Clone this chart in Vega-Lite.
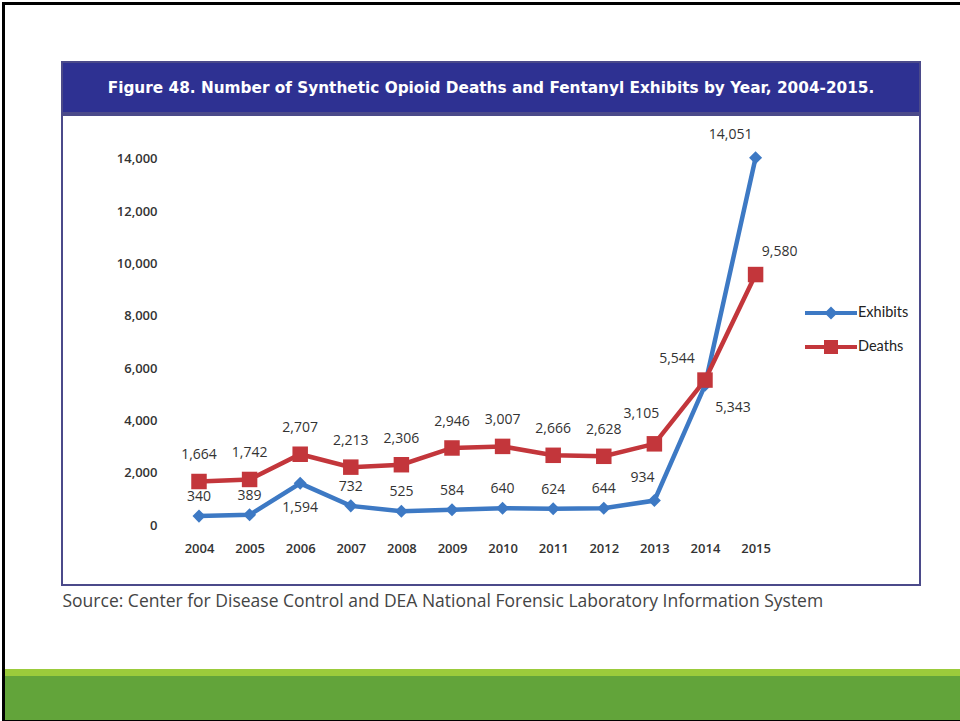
{
  "$schema": "https://vega.github.io/schema/vega-lite/v6.json",
  "background": "white",
  "padding": {"left": 2, "top": 2, "right": 0, "bottom": 0},
  "config": {"view": {"stroke": null}, "concat": {"spacing": 0}},
  "datasets": {
    "opioid": [
      {"year": 2004, "series": "Exhibits", "value": 340},
      {"year": 2005, "series": "Exhibits", "value": 389},
      {"year": 2006, "series": "Exhibits", "value": 1594},
      {"year": 2007, "series": "Exhibits", "value": 732},
      {"year": 2008, "series": "Exhibits", "value": 525},
      {"year": 2009, "series": "Exhibits", "value": 584},
      {"year": 2010, "series": "Exhibits", "value": 640},
      {"year": 2011, "series": "Exhibits", "value": 624},
      {"year": 2012, "series": "Exhibits", "value": 644},
      {"year": 2013, "series": "Exhibits", "value": 934},
      {"year": 2014, "series": "Exhibits", "value": 5343},
      {"year": 2015, "series": "Exhibits", "value": 14051},
      {"year": 2004, "series": "Deaths", "value": 1664},
      {"year": 2005, "series": "Deaths", "value": 1742},
      {"year": 2006, "series": "Deaths", "value": 2707},
      {"year": 2007, "series": "Deaths", "value": 2213},
      {"year": 2008, "series": "Deaths", "value": 2306},
      {"year": 2009, "series": "Deaths", "value": 2946},
      {"year": 2010, "series": "Deaths", "value": 3007},
      {"year": 2011, "series": "Deaths", "value": 2666},
      {"year": 2012, "series": "Deaths", "value": 2628},
      {"year": 2013, "series": "Deaths", "value": 3105},
      {"year": 2014, "series": "Deaths", "value": 5544},
      {"year": 2015, "series": "Deaths", "value": 9580}
    ]
  },
  "spacing": 0,
  "hconcat": [
    {"width": 3, "height": 719, "data": {"values": []}, "mark": "point", "view": {"fill": "black"}},
    {
      "spacing": 0,
      "vconcat": [
        {"width": 955, "height": 3, "data": {"values": []}, "mark": "point", "view": {"fill": "black"}},
        {"width": 955, "height": 56, "data": {"values": []}, "mark": "point"},
        {
          "spacing": 0,
          "hconcat": [
            {"width": 56, "height": 521, "data": {"values": []}, "mark": "point"},
            {
              "spacing": 0,
              "vconcat": [
                {
                  "width": 858,
                  "height": 51,
                  "view": {"fill": "#2E3192", "stroke": "#4B4A8A", "strokeWidth": 2},
                  "data": {"values": [{"t": "Figure 48. Number of Synthetic Opioid Deaths and Fentanyl Exhibits by Year, 2004-2015."}]},
                  "mark": {"type": "text", "color": "white", "font": "DejaVu Sans", "fontSize": 15.3, "fontWeight": "bold"},
                  "encoding": {"text": {"field": "t", "type": "nominal"}}
                },
                {
                  "width": 858,
                  "height": 470,
                  "view": {"fill": "white", "stroke": "#4B4A8A", "strokeWidth": 2},
                  "data": {"name": "opioid"},
                  "encoding": {
                    "x": {
                      "field": "year",
                      "type": "quantitative",
                      "scale": {"domain": [2001.2925, 2018.2495], "nice": false, "zero": false},
                      "axis": {
                        "values": [2004, 2005, 2006, 2007, 2008, 2009, 2010, 2011, 2012, 2013, 2014, 2015],
                        "format": "d",
                        "offset": -37,
                        "domain": false,
                        "ticks": false,
                        "grid": false,
                        "labelPadding": 0,
                        "labelBaseline": "middle",
                        "labelFlush": false,
                        "labelOverlap": false,
                        "labelFont": "Open Sans",
                        "labelFontSize": 13,
                        "labelFontWeight": 600,
                        "labelColor": "#333333",
                        "title": "Source: Center for Disease Control and DEA National Forensic Laboratory Information System",
                        "titleAnchor": "start",
                        "titleAlign": "left",
                        "titlePadding": 37,
                        "titleFont": "Open Sans",
                        "titleFontSize": 17.5,
                        "titleFontWeight": "normal",
                        "titleColor": "#444444"
                      }
                    },
                    "y": {
                      "field": "value",
                      "type": "quantitative",
                      "scale": {"domain": [-2295, 15683], "nice": false, "zero": false},
                      "axis": {
                        "values": [0, 2000, 4000, 6000, 8000, 10000, 12000, 14000],
                        "format": ",d",
                        "offset": -95,
                        "domain": false,
                        "ticks": false,
                        "grid": false,
                        "labelPadding": 0,
                        "labelFlush": false,
                        "labelOverlap": false,
                        "labelFont": "Open Sans",
                        "labelFontSize": 13,
                        "labelFontWeight": 600,
                        "labelColor": "#333333",
                        "title": null
                      }
                    },
                    "color": {
                      "field": "series",
                      "type": "nominal",
                      "scale": {"domain": ["Exhibits", "Deaths"], "range": ["#3D79C4", "#C3363B"]},
                      "legend": {
                        "orient": "none",
                        "legendX": 819,
                        "legendY": 301,
                        "title": null,
                        "padding": 0,
                        "symbolSize": 400,
                        "labelOffset": 17,
                        "rowPadding": 17,
                        "labelFont": "Lato",
                        "labelFontSize": 14.5,
                        "labelColor": "#222222",
                        "encoding": {
                          "symbols": {
                            "shape": {
                              "condition": {"test": "datum.value === 'Exhibits'", "value": "M-2.6,-0.2H2.6V0.2H-2.6Z M0,-0.65L0.65,0L0,0.65L-0.65,0Z"},
                              "value": "M-2.6,-0.2H2.6V0.2H-2.6Z M-0.7,-0.7H0.7V0.7H-0.7Z"
                            },
                            "fill": {
                              "condition": {"test": "datum.value === 'Exhibits'", "value": "#3D79C4"},
                              "value": "#C3363B"
                            },
                            "strokeWidth": {"value": 0},
                            "opacity": {"value": 1}
                          }
                        }
                      }
                    }
                  },
                  "layer": [
                    {"transform": [{"filter": "datum.series === 'Exhibits'"}], "mark": {"type": "line", "strokeWidth": 4.5}},
                    {"transform": [{"filter": "datum.series === 'Deaths'"}], "mark": {"type": "line", "strokeWidth": 4.5}},
                    {"transform": [{"filter": "datum.series === 'Exhibits'"}], "mark": {"type": "point", "shape": "diamond", "filled": true, "opacity": 1, "size": 170}},
                    {"transform": [{"filter": "datum.series === 'Deaths'"}], "mark": {"type": "point", "shape": "square", "filled": true, "opacity": 1, "size": 240}},
                    {
                      "transform": [{"filter": "datum.series === 'Deaths' && datum.year <= 2012"}],
                      "mark": {"type": "text", "font": "Open Sans", "fontSize": 14, "dy": -26},
                      "encoding": {"text": {"field": "value", "type": "quantitative", "format": ","}, "color": {"value": "#333333"}}
                    },
                    {
                      "transform": [{"filter": "datum.series === 'Exhibits' && datum.year <= 2012 && datum.year !== 2006"}],
                      "mark": {"type": "text", "font": "Open Sans", "fontSize": 14, "dy": -19},
                      "encoding": {"text": {"field": "value", "type": "quantitative", "format": ","}, "color": {"value": "#333333"}}
                    },
                    {
                      "transform": [{"filter": "datum.series === 'Exhibits' && datum.year === 2006"}],
                      "mark": {"type": "text", "font": "Open Sans", "fontSize": 14, "dy": 25},
                      "encoding": {"text": {"field": "value", "type": "quantitative", "format": ","}, "color": {"value": "#333333"}}
                    },
                    {
                      "transform": [{"filter": "datum.series === 'Deaths' && datum.year === 2013"}],
                      "mark": {"type": "text", "font": "Open Sans", "fontSize": 14, "dx": -13, "dy": -30},
                      "encoding": {"text": {"field": "value", "type": "quantitative", "format": ","}, "color": {"value": "#333333"}}
                    },
                    {
                      "transform": [{"filter": "datum.series === 'Exhibits' && datum.year === 2013"}],
                      "mark": {"type": "text", "font": "Open Sans", "fontSize": 14, "dx": -12, "dy": -23},
                      "encoding": {"text": {"field": "value", "type": "quantitative", "format": ","}, "color": {"value": "#333333"}}
                    },
                    {
                      "transform": [{"filter": "datum.series === 'Deaths' && datum.year === 2014"}],
                      "mark": {"type": "text", "font": "Open Sans", "fontSize": 14, "dx": -28, "dy": -21},
                      "encoding": {"text": {"field": "value", "type": "quantitative", "format": ","}, "color": {"value": "#333333"}}
                    },
                    {
                      "transform": [{"filter": "datum.series === 'Exhibits' && datum.year === 2014"}],
                      "mark": {"type": "text", "font": "Open Sans", "fontSize": 14, "dx": 28, "dy": 23},
                      "encoding": {"text": {"field": "value", "type": "quantitative", "format": ","}, "color": {"value": "#333333"}}
                    },
                    {
                      "transform": [{"filter": "datum.series === 'Deaths' && datum.year === 2015"}],
                      "mark": {"type": "text", "font": "Open Sans", "fontSize": 14, "dx": 24, "dy": -23},
                      "encoding": {"text": {"field": "value", "type": "quantitative", "format": ","}, "color": {"value": "#333333"}}
                    },
                    {
                      "transform": [{"filter": "datum.series === 'Exhibits' && datum.year === 2015"}],
                      "mark": {"type": "text", "font": "Open Sans", "fontSize": 14, "dx": -25, "dy": -23},
                      "encoding": {"text": {"field": "value", "type": "quantitative", "format": ","}, "color": {"value": "#333333"}}
                    }
                  ]
                }
              ]
            }
          ]
        },
        {"width": 955, "height": 58, "data": {"values": []}, "mark": "point"},
        {"width": 955, "height": 7, "data": {"values": []}, "mark": "point", "view": {"fill": "#9BCB3B"}},
        {"width": 955, "height": 44, "data": {"values": []}, "mark": "point", "view": {"fill": "#62A43A"}},
        {"width": 955, "height": 3, "data": {"values": []}, "mark": "point", "view": {"fill": "black"}}
      ]
    }
  ]
}
